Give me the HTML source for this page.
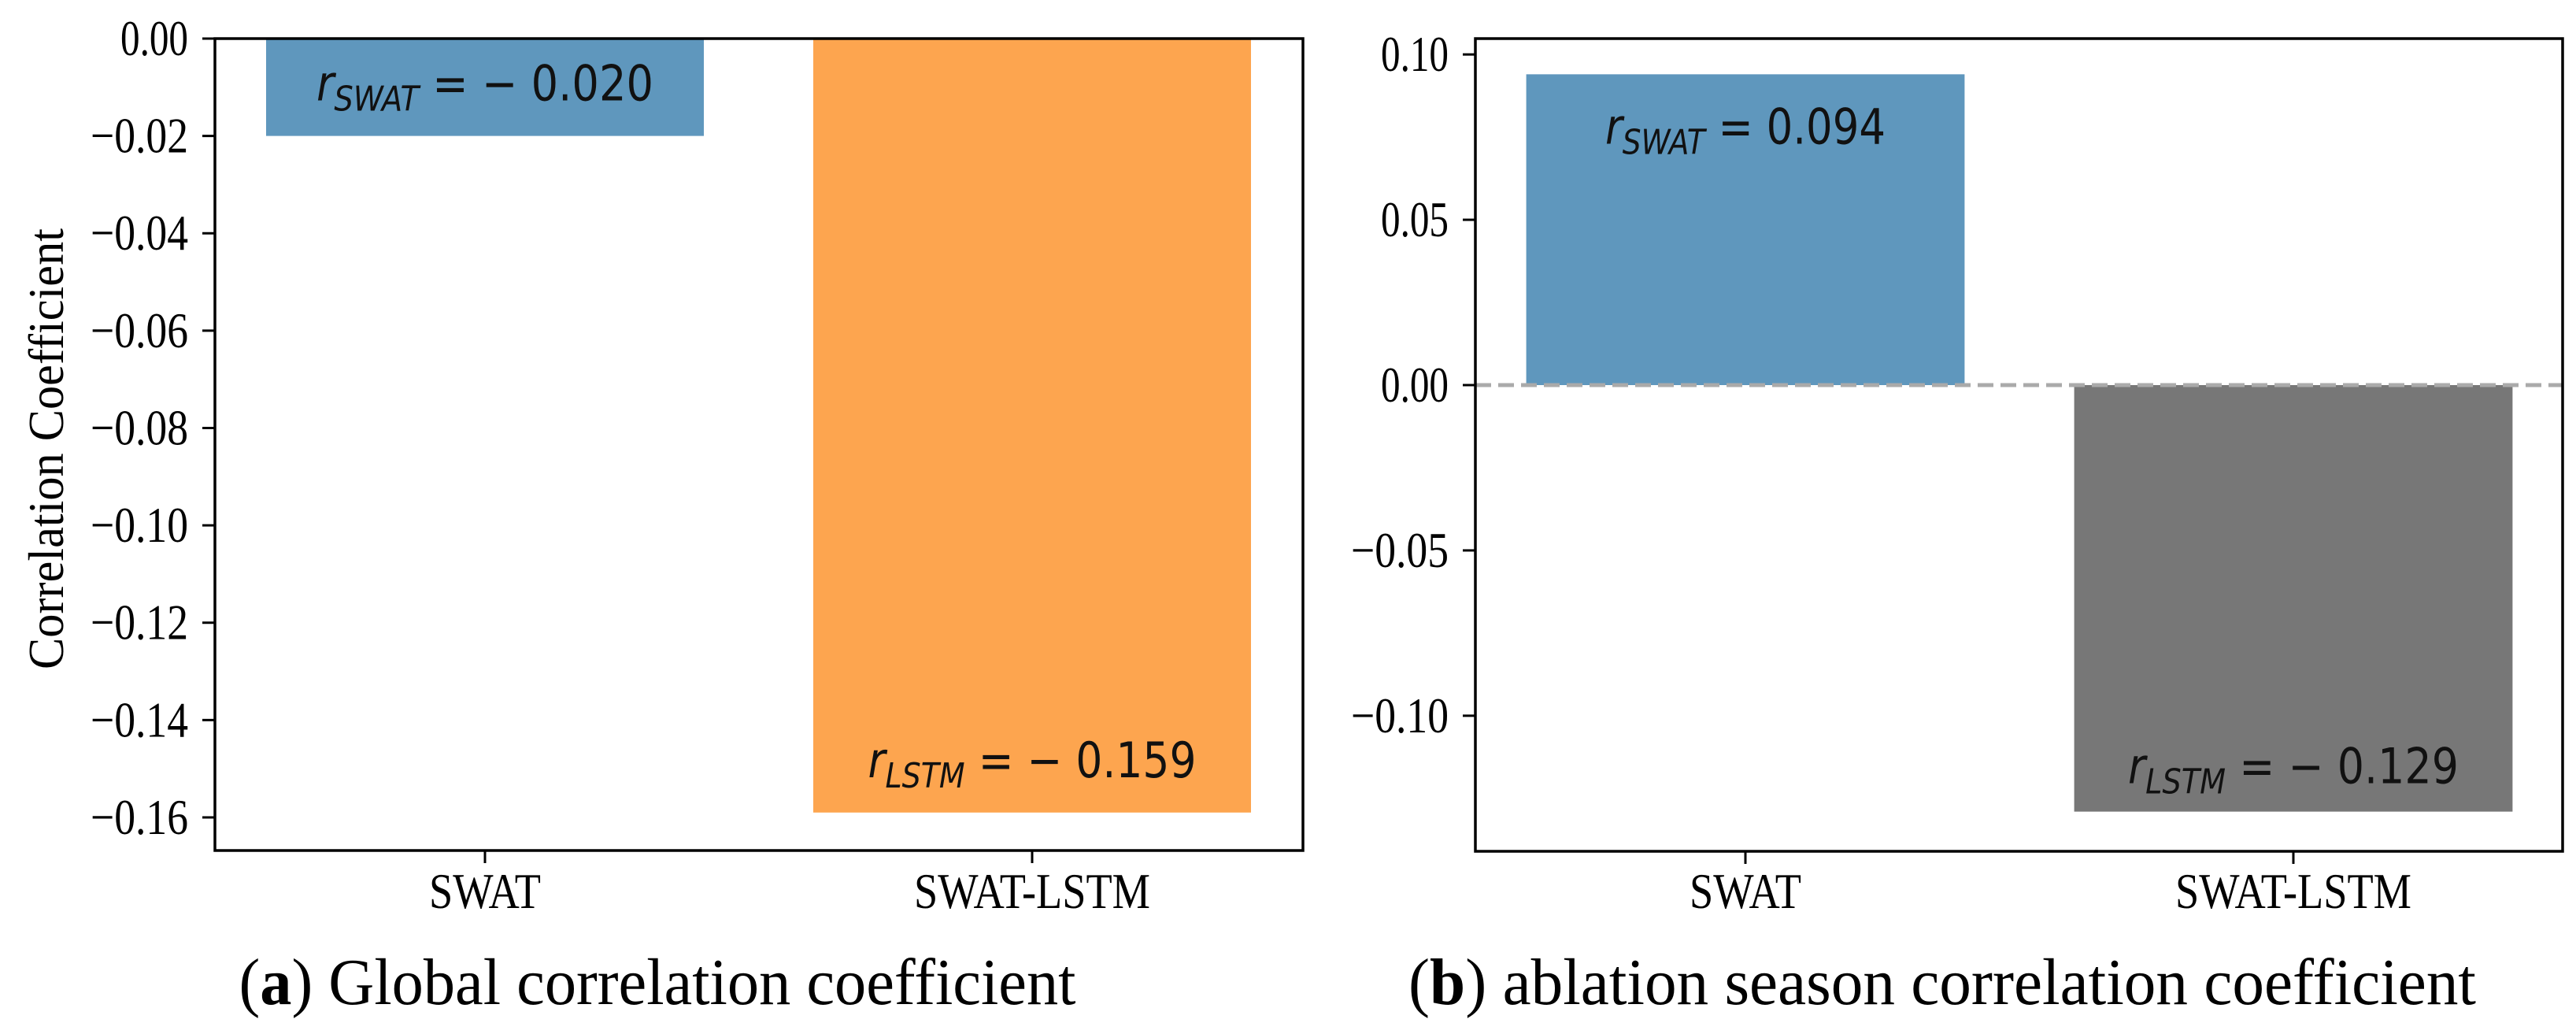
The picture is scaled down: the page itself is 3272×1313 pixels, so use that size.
<!DOCTYPE html>
<html><head><meta charset="utf-8"><style>
html,body{margin:0;padding:0;background:#fff;}
svg{display:block;}
.tk{font-family:"Liberation Serif",serif;font-size:64px;fill:#000;}
.an{font-family:"DejaVu Sans",sans-serif;font-size:62px;fill:#111;}
.cap{font-family:"Liberation Serif",serif;font-size:84px;fill:#000;}
</style></head><body>
<svg id="chart" width="3272" height="1313" viewBox="0 0 3272 1313" xmlns="http://www.w3.org/2000/svg"></svg>
<script>
const categories = ["SWAT", "SWAT-LSTM"];
const globalValues = [-0.020, -0.159];
const seasonValues = [0.094, -0.129];
const globalTicks = [0.00, -0.02, -0.04, -0.06, -0.08, -0.10, -0.12, -0.14, -0.16];
const seasonTicks = [0.10, 0.05, 0.00, -0.05, -0.10];
const globalLabels = ["r_SWAT = − 0.020", "r_LSTM = − 0.159"];
const seasonLabels = ["r_SWAT = 0.094", "r_LSTM = − 0.129"];

const NS = "http://www.w3.org/2000/svg";
const svg = document.getElementById('chart');
function mk(tag, attrs, parent){
  const e = document.createElementNS(NS, tag);
  for (const k in attrs) e.setAttribute(k, attrs[k]);
  (parent||svg).appendChild(e);
  return e;
}
function fmt(v){ const s = Math.abs(v).toFixed(2); return (v < -1e-9 ? "−" : "") + s; }

function panel(opt){
  const g = mk('g', {});
  
  
  const {x0, x1, yTop, yBot, ymin, ymax, c0, c1} = opt;
  const yS = v => yTop + (ymax - v) / (ymax - ymin) * (yBot - yTop);
  const xS = i => c0 + i * (c1 - c0);
  const bw = 0.8 * (c1 - c0);
  opt.values.forEach((v, i) => {
    const y0 = yS(0), y1 = yS(v);
    const r = mk('rect', {x: xS(i) - bw/2, y: Math.min(y0, y1), width: bw, height: Math.abs(y1 - y0), fill: opt.colors[i]}, g);
    
    
    const parts = opt.labels[i].split(' = ');
    const sub = parts[0].split('_')[1];
    const ly = v >= 0 ? y1 + opt.posOff : y1 - opt.negOff;
    const t = mk('text', {x: xS(i), y: ly, 'text-anchor': 'middle', class: 'an', textLength: opt.labW[i], lengthAdjust: 'spacingAndGlyphs'}, g);
    
    
    const a = mk('tspan', {'font-style': 'italic'}, t); a.textContent = 'r';
    const b = mk('tspan', {'font-style': 'italic', 'font-size': '44px', dy: '13'}, t); b.textContent = sub;
    const c = mk('tspan', {dy: '-13'}, t); c.textContent = ' = ' + parts[1];
  });
  if (opt.zeroLine){
    const l = mk('line', {x1: x0, x2: x1, y1: yS(0), y2: yS(0), stroke: '#aaaaaa', 'stroke-width': 5, 'stroke-dasharray': '20 9'}, g);
    
    
  }
  const f = mk('rect', {x: x0, y: yTop, width: x1 - x0, height: yBot - yTop, fill: 'none', stroke: '#000', 'stroke-width': 3.5}, g);
  
  
  opt.ticks.forEach(v => {
    const y = yS(v);
    mk('line', {x1: x0 - 16, x2: x0, y1: y, y2: y, stroke: '#000', 'stroke-width': 3}, g);
    const t = mk('text', {x: x0 - 34, y: y + 21, 'text-anchor': 'end', class: 'tk', textLength: fmt(v).startsWith('−') ? 124 : 86, lengthAdjust: 'spacingAndGlyphs'}, g);
    
    
    t.textContent = fmt(v);
  });
  categories.forEach((c, i) => {
    const x = xS(i);
    mk('line', {x1: x, x2: x, y1: yBot, y2: yBot + 16, stroke: '#000', 'stroke-width': 3}, g);
    const t = mk('text', {x: x, y: 1153, 'text-anchor': 'middle', class: 'tk', textLength: c === 'SWAT' ? 142 : 300, lengthAdjust: 'spacingAndGlyphs'}, g);
    
    
    t.textContent = c;
  });
  const cp = mk('text', {x: opt.capX, y: 1275, 'text-anchor': 'middle', class: 'cap', textLength: opt.capLen, lengthAdjust: 'spacingAndGlyphs'}, g);
  
  
  const p1 = mk('tspan', {}, cp); p1.textContent = '(';
  const p2 = mk('tspan', {'font-weight': 'bold'}, cp); p2.textContent = opt.capLetter;
  const p3 = mk('tspan', {}, cp); p3.textContent = ') ' + opt.capText;
}

panel({name: 'global-panel', x0: 273, x1: 1655, yTop: 49, yBot: 1080, ymin: -0.1668, ymax: 0,
  c0: 616, c1: 1311, values: globalValues, colors: ['#5f97bd', '#fda54f'], labels: globalLabels, labW: [428, 417],
  ticks: globalTicks, posOff: 98, negOff: 45, capX: 835, capLen: 1063, capLetter: 'a', capText: 'Global correlation coefficient'});
panel({name: 'ablation-season-panel', x0: 1874, x1: 3255, yTop: 49, yBot: 1081, ymin: -0.141, ymax: 0.1048,
  c0: 2217, c1: 2913, values: seasonValues, colors: ['#5f97bd', '#777777'], labels: seasonLabels, labW: [356, 420],
  ticks: seasonTicks, posOff: 88, negOff: 36, capX: 2467, capLen: 1356, capLetter: 'b', capText: 'ablation season correlation coefficient', zeroLine: true});

const yl = mk('text', {x: 0, y: 0, transform: 'translate(80,570) rotate(-90)', 'text-anchor': 'middle', class: 'tk', 'font-size': '72px', textLength: 560, lengthAdjust: 'spacingAndGlyphs'});


yl.textContent = 'Correlation Coefficient';
</script>
</body></html>
